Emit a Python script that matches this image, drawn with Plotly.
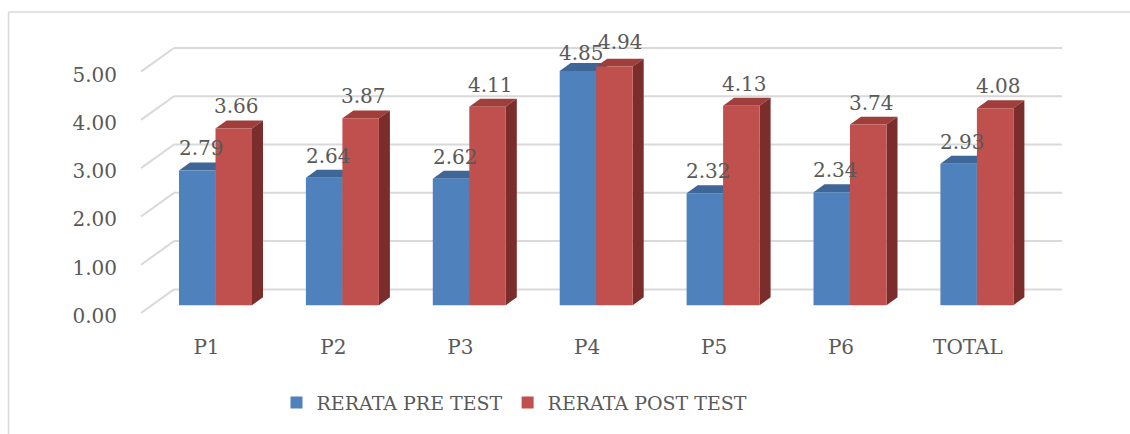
import plotly.graph_objects as go

categories = ["P1", "P2", "P3", "P4", "P5", "P6", "TOTAL"]
pre_test = [2.79, 2.64, 2.62, 4.85, 2.32, 2.34, 2.93]
post_test = [3.66, 3.87, 4.11, 4.94, 4.13, 3.74, 4.08]
y_ticks = [0, 1, 2, 3, 4, 5]
y_tick_labels = ["0.00", "1.00", "2.00", "3.00", "4.00", "5.00"]
series_names = ["RERATA PRE TEST", "RERATA POST TEST"]

# ---- geometry / style ----
W, H = 1130, 434
ML, MR, MT, MB = 139, 64, 44, 113
PX_X = 126.9   # pixels per category
PX_Y = 49.0    # pixels per unit
x0 = (ML - 215.5) / PX_X
x1 = x0 + (W - ML - MR) / PX_X
y0 = (309 - (H - MB)) / PX_Y
y1 = y0 + (H - MT - MB) / PX_Y

BAR_W = 36.5 / PX_X
DX = 11 / PX_X
DY = 8 / PX_Y
WALL_SHIFT_Y = 8 / PX_Y      # front end of side-wall lines below bar plane
TICK_SHIFT_Y = 11 / PX_Y     # tick labels a bit lower (font metrics)
LABEL_SHIFT_X = 9 / PX_X
WALL_DX = 33 / PX_X
WALL_DY = 24 / PX_Y

BLUE, BLUE_TOP, BLUE_SIDE = "#4F81BD", "#3E6696", "#2F4F77"
RED, RED_TOP, RED_SIDE = "#C0504D", "#9F3E3B", "#7A2D2B"
GRID = "#D9D9D9"
TXT = "#595959"
FONT = "DejaVu Serif"

xs = list(range(len(categories)))

fig = go.Figure()
fig.add_trace(go.Bar(x=xs, y=pre_test, name=series_names[0], width=BAR_W, offset=-BAR_W,
                     marker=dict(color=BLUE, line=dict(width=0)), hoverinfo="y"))
fig.add_trace(go.Bar(x=xs, y=post_test, name=series_names[1], width=BAR_W, offset=0,
                     marker=dict(color=RED, line=dict(width=0)), hoverinfo="y"))
# helper trace carrying the label axes
fig.add_trace(go.Scatter(x=xs, y=pre_test, xaxis="x2", yaxis="y2", mode="markers",
                         marker=dict(opacity=0), showlegend=False, hoverinfo="skip"))

shapes = []
# back wall grid + side wall diagonals
for v in y_ticks:
    xa = x0 + (141 - ML) / PX_X
    ya = v - WALL_SHIFT_Y
    xb = xa + WALL_DX
    yb = ya + WALL_DY
    shapes.append(dict(type="line", xref="x", yref="y", x0=xa, y0=ya, x1=xb, y1=yb,
                       line=dict(color=GRID, width=2), layer="below"))
    shapes.append(dict(type="line", xref="x", yref="y", x0=xb, y0=yb, x1=x0 + (1062 - ML) / PX_X, y1=yb,
                       line=dict(color=GRID, width=2), layer="below"))

def poly(pts):
    return "M" + " L".join(f"{px},{py}" for px, py in pts) + " Z"

for i, (a, b) in enumerate(zip(pre_test, post_test)):
    bl, bm, br = i - BAR_W, i, i + BAR_W
    shapes.append(dict(type="path", xref="x", yref="y", layer="below",
                       path=poly([(bl, a), (bl + DX, a + DY), (bm + DX, a + DY), (bm, a)]),
                       fillcolor=BLUE_TOP, line=dict(width=0)))
    shapes.append(dict(type="path", xref="x", yref="y", layer="below",
                       path=poly([(bm, 0), (bm + DX, DY), (bm + DX, a + DY), (bm, a)]),
                       fillcolor=BLUE_SIDE, line=dict(width=0)))
    shapes.append(dict(type="path", xref="x", yref="y", layer="below",
                       path=poly([(bm, b), (bm + DX, b + DY), (br + DX, b + DY), (br, b)]),
                       fillcolor=RED_TOP, line=dict(width=0)))
    shapes.append(dict(type="path", xref="x", yref="y", layer="below",
                       path=poly([(br, 0), (br + DX, DY), (br + DX, b + DY), (br, b)]),
                       fillcolor=RED_SIDE, line=dict(width=0)))

def px2paper_x(p):
    return (p - ML) / (W - ML - MR)

def px2paper_y(p):
    return ((H - MB) - p) / (H - MT - MB)

# chart border (left & top)
shapes.append(dict(type="line", xref="paper", yref="paper",
                   x0=px2paper_x(8.5), y0=px2paper_y(11.5), x1=px2paper_x(8.5), y1=px2paper_y(440),
                   line=dict(color=GRID, width=1.5)))
shapes.append(dict(type="line", xref="paper", yref="paper",
                   x0=px2paper_x(8.5), y0=px2paper_y(11.5), x1=px2paper_x(1140), y1=px2paper_y(11.5),
                   line=dict(color=GRID, width=1.5)))

annotations = []
for i, (a, b) in enumerate(zip(pre_test, post_test)):
    close = abs(a - b) < 0.3
    lo_shift, hi_shift = (19, 26) if close else (23, 23)
    sa = hi_shift if a >= b else lo_shift
    sb = hi_shift if b > a else lo_shift
    annotations.append(dict(x=i - BAR_W / 2 + 4 / PX_X, y=a, xref="x", yref="y", text=f"{a:.2f}",
                            showarrow=False, yanchor="middle", yshift=sa - 1,
                            font=dict(family=FONT, size=20, color=TXT)))
    annotations.append(dict(x=i + BAR_W / 2 + (6 if close else 3) / PX_X, y=b, xref="x", yref="y",
                            text=f"{b:.2f}", showarrow=False, yanchor="middle", yshift=sb - 1,
                            font=dict(family=FONT, size=20, color=TXT)))

fig.update_layout(
    width=W, height=H,
    margin=dict(l=ML, r=MR, t=MT, b=MB, pad=0),
    paper_bgcolor="white", plot_bgcolor="rgba(0,0,0,0)",
    barmode="overlay",
    xaxis=dict(range=[x0, x1], showgrid=False, zeroline=False, showticklabels=False,
               showline=False, fixedrange=True),
    yaxis=dict(range=[y0, y1], showgrid=False, zeroline=False, showticklabels=False,
               showline=False, fixedrange=True),
    xaxis2=dict(range=[x0 + LABEL_SHIFT_X, x1 + LABEL_SHIFT_X], overlaying="x", anchor="y2", side="bottom",
                tickmode="array", tickvals=xs, ticktext=categories, showgrid=False, zeroline=False,
                showline=False, ticks="outside", ticklen=12, tickcolor="rgba(0,0,0,0)",
                tickfont=dict(family=FONT, size=20, color=TXT), fixedrange=True),
    yaxis2=dict(range=[y0 + TICK_SHIFT_Y, y1 + TICK_SHIFT_Y], overlaying="y", anchor="x2", side="left",
                tickmode="array", tickvals=y_ticks, ticktext=y_tick_labels, showgrid=False, zeroline=False,
                showline=False, ticks="outside", ticklen=17, tickcolor="rgba(0,0,0,0)",
                tickfont=dict(family=FONT, size=20, color=TXT), fixedrange=True),
    shapes=shapes,
    annotations=annotations,
    showlegend=True,
    legend=dict(orientation="h", x=px2paper_x(514.5), xanchor="center", y=px2paper_y(408), yanchor="middle",
                font=dict(family=FONT, size=19, color=TXT), itemwidth=30, traceorder="normal",
                bgcolor="rgba(0,0,0,0)"),
)

fig.write_html("out.html", config={"displayModeBar": False},
               post_script="document.body.style.margin='0px';document.body.style.overflow='hidden';")
